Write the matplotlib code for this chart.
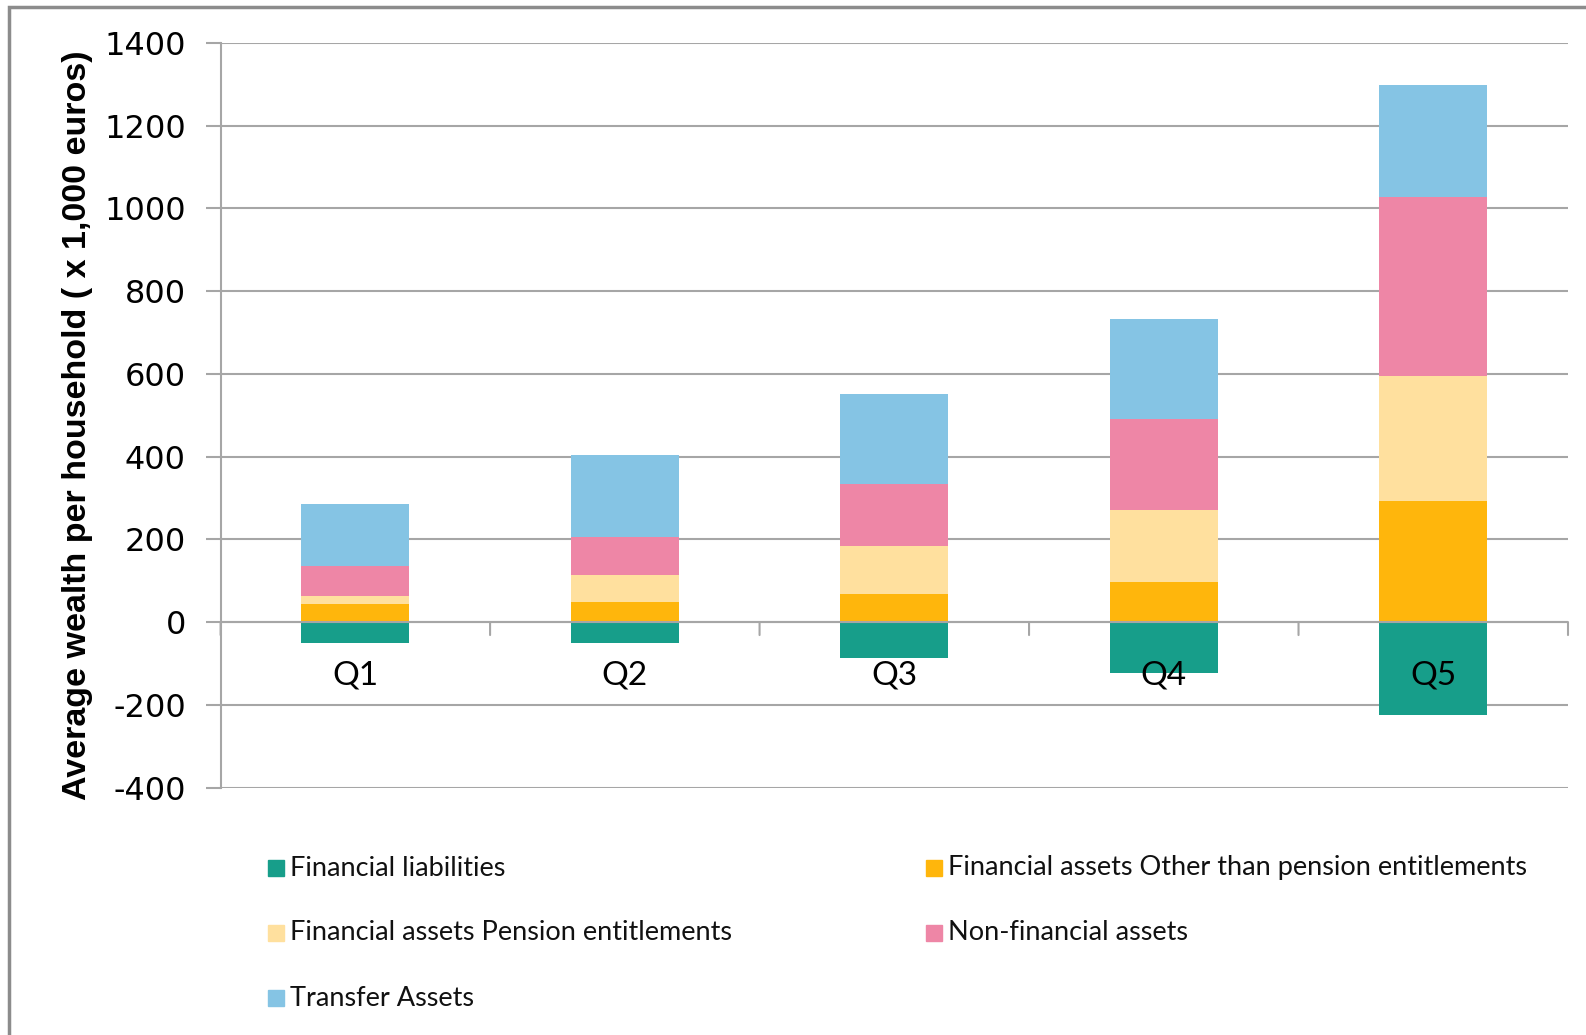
import matplotlib
matplotlib.use('Agg')
import matplotlib.pyplot as plt
from matplotlib.patches import Rectangle
import numpy as np

plt.rcParams['axes.unicode_minus'] = False

# Данные (тыс. евро на домохозяйство)
quintiles = ['Q1', 'Q2', 'Q3', 'Q4', 'Q5']
liabilities = [-50, -50, -86, -124, -225]
fa_other = [43, 48, 68, 96, 293]
fa_pension = [20, 65, 115, 175, 302]
non_financial = [72, 92, 150, 219, 432]
transfer = [150, 198, 219, 243, 271]

series_labels = ['Financial liabilities',
                 'Financial assets Other than pension entitlements',
                 'Financial assets Pension entitlements',
                 'Non-financial assets',
                 'Transfer Assets']
colors = ['#179E8A', '#FFB60C', '#FFE09E', '#EE86A6', '#85C4E4']

W, H = 1586, 1035
fig = plt.figure(figsize=(W / 100, H / 100), dpi=100)
ax = fig.add_axes([220.6 / W, 1 - 787.5 / H, (1568 - 220.6) / W, (787.5 - 43) / H])

grid_color = '#A6A6A6'
x = np.arange(len(quintiles))
width = 0.4

# Столбцы: пассивы вниз, активы стопкой вверх
ax.bar(x, liabilities, width, color=colors[0], zorder=2)
bottom = np.zeros(len(quintiles))
for vals, col in zip([fa_other, fa_pension, non_financial, transfer], colors[1:]):
    ax.bar(x, vals, width, bottom=bottom, color=col, zorder=2)
    bottom += np.array(vals)

ax.set_xlim(-0.5, 4.5)
ax.set_ylim(-400, 1400)
ax.set_yticks(range(-400, 1401, 200))
ax.yaxis.grid(True, color=grid_color, linewidth=1.5, zorder=0)
ax.set_axisbelow(True)
ax.tick_params(axis='y', direction='out', length=11, width=1.5, color=grid_color,
               labelsize=23, pad=14)

for side in ['top', 'right', 'bottom']:
    ax.spines[side].set_visible(False)
ax.spines['left'].set_color(grid_color)
ax.spines['left'].set_linewidth(1.5)
ax.set_xticks([])

# Ось X на нуле с засечками между категориями
ax.axhline(0, color=grid_color, linewidth=1.5, zorder=3)
for b in np.arange(-0.5, 5, 1.0):
    ax.annotate('', xy=(b, 0), xytext=(0, -13), textcoords='offset pixels',
                arrowprops=dict(arrowstyle='-', color=grid_color, lw=1.5,
                                shrinkA=0, shrinkB=0))

for i, q in enumerate(quintiles):
    ax.annotate(q, xy=(i, 0), xytext=(0, -53), textcoords='offset pixels',
                ha='center', va='center', fontsize=24, family='Lato', zorder=5)

ax.set_ylabel('Average wealth per household ( x 1,000 euros)',
              family='Liberation Sans', fontweight='bold', fontsize=24.5)
ax.yaxis.set_label_coords(93 / W, 1 - 425 / H, transform=fig.transFigure)

# Легенда вручную: две колонки
legend_pos = [(268, 868), (926, 868), (268, 933), (926, 933), (268, 998)]
for (lx, ly), lab, col in zip(legend_pos, series_labels, colors):
    fig.patches.append(Rectangle((lx / W, (H - ly - 8) / H), 16 / W, 16 / H,
                                 transform=fig.transFigure, color=col))
    fig.text((lx + 22) / W, (H - ly) / H, lab, fontsize=19.5, family='Lato',
             va='center', ha='left', color='#111111')

# Рамка области диаграммы (обрезана справа и снизу)
fig.patches.append(Rectangle((9 / W, -0.1), 1.2, (H - 7) / H + 0.1,
                             transform=fig.transFigure, fill=False,
                             edgecolor='#8C8C8C', linewidth=2.5))

fig.savefig('out.png', dpi=100)
